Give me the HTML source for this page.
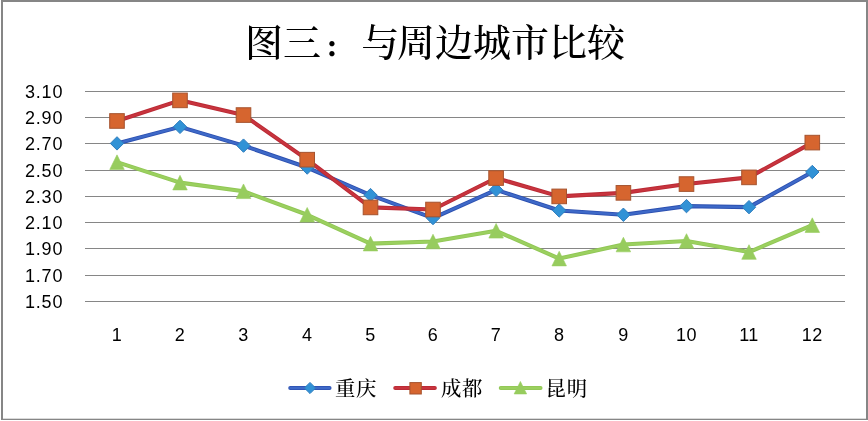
<!DOCTYPE html>
<html lang="zh"><head><meta charset="utf-8"><title>图三：与周边城市比较</title>
<style>
html,body{margin:0;padding:0;background:#fff;}
body{width:868px;height:421px;overflow:hidden;}
svg{display:block;}
.ax{font-family:"Liberation Sans",sans-serif;font-size:18px;fill:#000;letter-spacing:0.8px;}
.axx{font-family:"Liberation Sans",sans-serif;font-size:18px;fill:#000;letter-spacing:0.5px;}
.title{font-family:"Liberation Serif","Noto Serif CJK SC",serif;font-size:38px;fill:#000;font-weight:500;}
.colon{font-size:26px;font-weight:900;}
.lg{font-family:"Liberation Serif","Noto Serif CJK SC",serif;font-size:20.4px;fill:#000;letter-spacing:0.7px;font-weight:500;}
</style></head><body>
<svg width="868" height="421" viewBox="0 0 868 421">
<rect x="0" y="0" width="868" height="421" fill="#fff"/>
<rect x="1" y="0" width="867" height="2" fill="#868686"/>
<rect x="1" y="0" width="2" height="420" fill="#868686"/>
<rect x="866" y="0" width="2" height="420" fill="#868686"/>
<rect x="1" y="418.7" width="867" height="1.3" fill="#868686"/>
<rect x="85.0" y="91" width="760.0" height="1" fill="#868686"/>
<rect x="85.0" y="117" width="760.0" height="1" fill="#868686"/>
<rect x="85.0" y="143" width="760.0" height="1" fill="#868686"/>
<rect x="85.0" y="170" width="760.0" height="1" fill="#868686"/>
<rect x="85.0" y="196" width="760.0" height="1" fill="#868686"/>
<rect x="85.0" y="222" width="760.0" height="1" fill="#868686"/>
<rect x="85.0" y="248" width="760.0" height="1" fill="#868686"/>
<rect x="85.0" y="275" width="760.0" height="1" fill="#868686"/>
<rect x="85.0" y="301" width="760.0" height="1" fill="#868686"/>
<text x="63.2" y="97.85" text-anchor="end" class="ax">3.10</text>
<text x="63.2" y="124.09" text-anchor="end" class="ax">2.90</text>
<text x="63.2" y="150.33" text-anchor="end" class="ax">2.70</text>
<text x="63.2" y="176.56" text-anchor="end" class="ax">2.50</text>
<text x="63.2" y="202.80" text-anchor="end" class="ax">2.30</text>
<text x="63.2" y="229.04" text-anchor="end" class="ax">2.10</text>
<text x="63.2" y="255.28" text-anchor="end" class="ax">1.90</text>
<text x="63.2" y="281.51" text-anchor="end" class="ax">1.70</text>
<text x="63.2" y="307.75" text-anchor="end" class="ax">1.50</text>
<text x="117.00" y="340.9" text-anchor="middle" class="axx">1</text>
<text x="180.00" y="340.9" text-anchor="middle" class="axx">2</text>
<text x="243.50" y="340.9" text-anchor="middle" class="axx">3</text>
<text x="307.20" y="340.9" text-anchor="middle" class="axx">4</text>
<text x="370.50" y="340.9" text-anchor="middle" class="axx">5</text>
<text x="433.00" y="340.9" text-anchor="middle" class="axx">6</text>
<text x="496.10" y="340.9" text-anchor="middle" class="axx">7</text>
<text x="559.20" y="340.9" text-anchor="middle" class="axx">8</text>
<text x="623.40" y="340.9" text-anchor="middle" class="axx">9</text>
<text x="686.50" y="340.9" text-anchor="middle" class="axx">10</text>
<text x="749.00" y="340.9" text-anchor="middle" class="axx">11</text>
<text x="812.30" y="340.9" text-anchor="middle" class="axx">12</text>
<polyline points="117.00,143.40 180.00,126.87 243.50,145.63 307.20,167.54 370.50,195.09 433.00,218.05 496.10,189.84 559.20,210.44 623.40,214.77 686.50,206.11 749.00,207.16 812.30,172.00" fill="none" stroke="#2C50B0" stroke-width="4.1" stroke-linejoin="round" stroke-linecap="round"/>
<polyline points="117.00,143.40 180.00,126.87 243.50,145.63 307.20,167.54 370.50,195.09 433.00,218.05 496.10,189.84 559.20,210.44 623.40,214.77 686.50,206.11 749.00,207.16 812.30,172.00" fill="none" stroke="#3E69C8" stroke-width="2.30" stroke-linejoin="round" stroke-linecap="round"/>
<polygon points="117.00,136.70 123.70,143.40 117.00,150.10 110.30,143.40" fill="#3192D6" stroke="#2F7DBE" stroke-width="1"/>
<polygon points="180.00,120.17 186.70,126.87 180.00,133.57 173.30,126.87" fill="#3192D6" stroke="#2F7DBE" stroke-width="1"/>
<polygon points="243.50,138.93 250.20,145.63 243.50,152.33 236.80,145.63" fill="#3192D6" stroke="#2F7DBE" stroke-width="1"/>
<polygon points="307.20,160.84 313.90,167.54 307.20,174.24 300.50,167.54" fill="#3192D6" stroke="#2F7DBE" stroke-width="1"/>
<polygon points="370.50,188.39 377.20,195.09 370.50,201.79 363.80,195.09" fill="#3192D6" stroke="#2F7DBE" stroke-width="1"/>
<polygon points="433.00,211.35 439.70,218.05 433.00,224.75 426.30,218.05" fill="#3192D6" stroke="#2F7DBE" stroke-width="1"/>
<polygon points="496.10,183.14 502.80,189.84 496.10,196.54 489.40,189.84" fill="#3192D6" stroke="#2F7DBE" stroke-width="1"/>
<polygon points="559.20,203.74 565.90,210.44 559.20,217.14 552.50,210.44" fill="#3192D6" stroke="#2F7DBE" stroke-width="1"/>
<polygon points="623.40,208.07 630.10,214.77 623.40,221.47 616.70,214.77" fill="#3192D6" stroke="#2F7DBE" stroke-width="1"/>
<polygon points="686.50,199.41 693.20,206.11 686.50,212.81 679.80,206.11" fill="#3192D6" stroke="#2F7DBE" stroke-width="1"/>
<polygon points="749.00,200.46 755.70,207.16 749.00,213.86 742.30,207.16" fill="#3192D6" stroke="#2F7DBE" stroke-width="1"/>
<polygon points="812.30,165.30 819.00,172.00 812.30,178.70 805.60,172.00" fill="#3192D6" stroke="#2F7DBE" stroke-width="1"/>
<polyline points="117.00,120.97 180.00,100.37 243.50,115.06 307.20,159.67 370.50,207.42 433.00,209.52 496.10,178.03 559.20,196.40 623.40,192.86 686.50,184.07 749.00,177.38 812.30,142.61" fill="none" stroke="#B92A34" stroke-width="4.1" stroke-linejoin="round" stroke-linecap="round"/>
<polyline points="117.00,120.97 180.00,100.37 243.50,115.06 307.20,159.67 370.50,207.42 433.00,209.52 496.10,178.03 559.20,196.40 623.40,192.86 686.50,184.07 749.00,177.38 812.30,142.61" fill="none" stroke="#C8343E" stroke-width="2.30" stroke-linejoin="round" stroke-linecap="round"/>
<rect x="109.70" y="113.67" width="14.6" height="14.6" fill="#D6652F" stroke="#A5532E" stroke-width="1"/>
<rect x="172.70" y="93.07" width="14.6" height="14.6" fill="#D6652F" stroke="#A5532E" stroke-width="1"/>
<rect x="236.20" y="107.76" width="14.6" height="14.6" fill="#D6652F" stroke="#A5532E" stroke-width="1"/>
<rect x="299.90" y="152.37" width="14.6" height="14.6" fill="#D6652F" stroke="#A5532E" stroke-width="1"/>
<rect x="363.20" y="200.12" width="14.6" height="14.6" fill="#D6652F" stroke="#A5532E" stroke-width="1"/>
<rect x="425.70" y="202.22" width="14.6" height="14.6" fill="#D6652F" stroke="#A5532E" stroke-width="1"/>
<rect x="488.80" y="170.73" width="14.6" height="14.6" fill="#D6652F" stroke="#A5532E" stroke-width="1"/>
<rect x="551.90" y="189.10" width="14.6" height="14.6" fill="#D6652F" stroke="#A5532E" stroke-width="1"/>
<rect x="616.10" y="185.56" width="14.6" height="14.6" fill="#D6652F" stroke="#A5532E" stroke-width="1"/>
<rect x="679.20" y="176.77" width="14.6" height="14.6" fill="#D6652F" stroke="#A5532E" stroke-width="1"/>
<rect x="741.70" y="170.08" width="14.6" height="14.6" fill="#D6652F" stroke="#A5532E" stroke-width="1"/>
<rect x="805.00" y="135.31" width="14.6" height="14.6" fill="#D6652F" stroke="#A5532E" stroke-width="1"/>
<polyline points="117.00,162.16 180.00,182.63 243.50,191.28 307.20,214.77 370.50,243.63 433.00,241.53 496.10,230.77 559.20,258.58 623.40,244.55 686.50,241.00 749.00,252.02 812.30,225.13" fill="none" stroke="#90C655" stroke-width="4.1" stroke-linejoin="round" stroke-linecap="round"/>
<polyline points="117.00,162.16 180.00,182.63 243.50,191.28 307.20,214.77 370.50,243.63 433.00,241.53 496.10,230.77 559.20,258.58 623.40,244.55 686.50,241.00 749.00,252.02 812.30,225.13" fill="none" stroke="#9BD05F" stroke-width="2.30" stroke-linejoin="round" stroke-linecap="round"/>
<polygon points="117.00,154.86 124.25,169.46 109.75,169.46" fill="#97CC5E" stroke="#97CC5E" stroke-width="0.6"/>
<polygon points="180.00,175.33 187.25,189.93 172.75,189.93" fill="#97CC5E" stroke="#97CC5E" stroke-width="0.6"/>
<polygon points="243.50,183.98 250.75,198.58 236.25,198.58" fill="#97CC5E" stroke="#97CC5E" stroke-width="0.6"/>
<polygon points="307.20,207.47 314.45,222.07 299.95,222.07" fill="#97CC5E" stroke="#97CC5E" stroke-width="0.6"/>
<polygon points="370.50,236.33 377.75,250.93 363.25,250.93" fill="#97CC5E" stroke="#97CC5E" stroke-width="0.6"/>
<polygon points="433.00,234.23 440.25,248.83 425.75,248.83" fill="#97CC5E" stroke="#97CC5E" stroke-width="0.6"/>
<polygon points="496.10,223.47 503.35,238.07 488.85,238.07" fill="#97CC5E" stroke="#97CC5E" stroke-width="0.6"/>
<polygon points="559.20,251.28 566.45,265.88 551.95,265.88" fill="#97CC5E" stroke="#97CC5E" stroke-width="0.6"/>
<polygon points="623.40,237.25 630.65,251.85 616.15,251.85" fill="#97CC5E" stroke="#97CC5E" stroke-width="0.6"/>
<polygon points="686.50,233.70 693.75,248.30 679.25,248.30" fill="#97CC5E" stroke="#97CC5E" stroke-width="0.6"/>
<polygon points="749.00,244.72 756.25,259.32 741.75,259.32" fill="#97CC5E" stroke="#97CC5E" stroke-width="0.6"/>
<polygon points="812.30,217.83 819.55,232.43 805.05,232.43" fill="#97CC5E" stroke="#97CC5E" stroke-width="0.6"/>
<text x="435.0" y="56.2" text-anchor="middle" class="title">图三<tspan class="colon" dx="3.6" dy="0.5">：</tspan><tspan dx="10.6" dy="-0.5">与</tspan><tspan dx="-2.2">周</tspan>边城市比较</text>
<line x1="290.3" y1="388" x2="329.5" y2="388" stroke="#2C50B0" stroke-width="4.1" stroke-linecap="round"/>
<line x1="290.3" y1="388" x2="329.5" y2="388" stroke="#3E69C8" stroke-width="2.30" stroke-linecap="round"/>
<polygon points="310.00,382.40 315.60,388.00 310.00,393.60 304.40,388.00" fill="#3192D6" stroke="#2F7DBE" stroke-width="1"/>
<text x="335" y="396.2" class="lg">重庆</text>
<line x1="395.3" y1="388" x2="434.8" y2="388" stroke="#B92A34" stroke-width="4.1" stroke-linecap="round"/>
<line x1="395.3" y1="388" x2="434.8" y2="388" stroke="#C8343E" stroke-width="2.30" stroke-linecap="round"/>
<rect x="409.90" y="382.60" width="11.4" height="11.4" fill="#D6652F" stroke="#A5532E" stroke-width="1"/>
<text x="441" y="396.2" class="lg">成都</text>
<line x1="500.8" y1="388" x2="540.5" y2="388" stroke="#90C655" stroke-width="4.1" stroke-linecap="round"/>
<line x1="500.8" y1="388" x2="540.5" y2="388" stroke="#9BD05F" stroke-width="2.30" stroke-linecap="round"/>
<polygon points="520.40,381.45 526.65,393.95 514.15,393.95" fill="#97CC5E" stroke="#97CC5E" stroke-width="0.6"/>
<text x="545.6" y="396.2" class="lg">昆明</text>
</svg>
</body></html>
